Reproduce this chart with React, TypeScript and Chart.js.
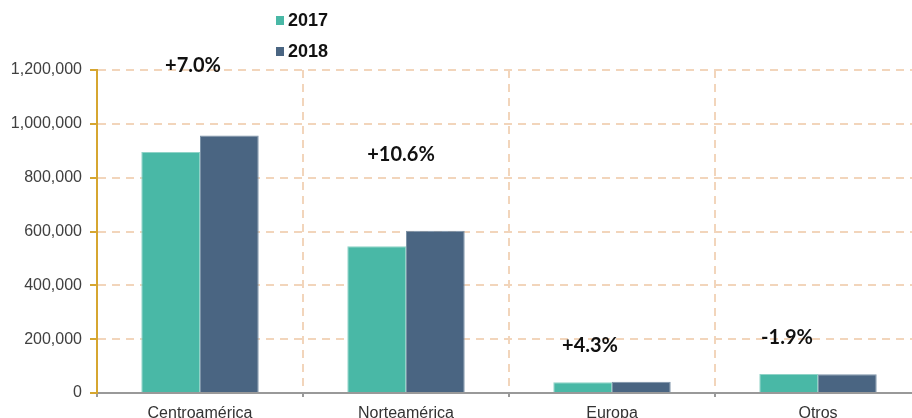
import React, { useEffect, useRef } from "react";
import { Chart, registerables } from "chart.js";

Chart.register(...registerables);

const categories = ["Centroamérica", "Norteamérica", "Europa", "Otros"];
const series2017 = [895000, 545000, 40000, 71000];
const series2018 = [957000, 603000, 41700, 69700];
const seriesNames = ["2017", "2018"];
const growthLabels = ["+7.0%", "+10.6%", "+4.3%", "-1.9%"];
const growthLevels = [1218000, 885000, 177000, 207000];
const growthShift = [-7, -5, -22, -31];
const yTicks = [0, 200000, 400000, 600000, 800000, 1000000, 1200000];

const GREEN = "#49b8a6";
const BLUE = "#4a6582";
const GRID = "#f2d5bb";
const GOLD = "#d6a630";

const overlayPlugin = {
  id: "overlay",
  afterDraw(chart: any) {
    const ctx = chart.ctx;
    const xs = chart.scales.x;
    const ys = chart.scales.y;
    ctx.save();
    ctx.fillStyle = "#111";
    ctx.font = "bold 20px Lato, 'Liberation Sans', sans-serif";
    ctx.textAlign = "center";
    ctx.textBaseline = "middle";
    growthLabels.forEach((t, i) => {
      ctx.fillText(t, xs.getPixelForValue(i) + growthShift[i], ys.getPixelForValue(growthLevels[i]));
    });
    const colors = [GREEN, BLUE];
    ctx.font = "bold 18px 'Liberation Sans', Arial, sans-serif";
    ctx.textAlign = "left";
    seriesNames.forEach((n, i) => {
      const cy = 20 + i * 31;
      ctx.fillStyle = colors[i];
      ctx.fillRect(276, cy - 4, 8, 9);
      ctx.fillStyle = "#111";
      ctx.fillText(n, 288, cy + 1);
    });
    ctx.restore();
  },
};

export default function App() {
  const ref = useRef<HTMLCanvasElement | null>(null);
  useEffect(() => {
    if (!ref.current) return;
    const chart = new Chart(ref.current, {
      type: "bar",
      data: {
        labels: categories,
        datasets: [
          { label: seriesNames[0], data: series2017, backgroundColor: GREEN, borderColor: "#8fd3c7", borderWidth: 1, barPercentage: 1, categoryPercentage: 0.57 },
          { label: seriesNames[1], data: series2018, backgroundColor: BLUE, borderColor: "#7d93a8", borderWidth: 1, barPercentage: 1, categoryPercentage: 0.57 },
        ],
      },
      options: {
        animation: false,
        responsive: true,
        maintainAspectRatio: false,
        layout: { padding: { top: 70, right: 1, left: 0, bottom: 0 } },
        plugins: { legend: { display: false }, tooltip: { enabled: false } },
        scales: {
          x: {
            offset: true,
            grid: {
              offset: true,
              color: GRID,
              lineWidth: 2,
              tickColor: "#999",
              tickLength: 4,
              tickBorderDash: [],
            },
            border: { color: "#999", width: 2, dash: [8, 6] },
            ticks: {
              color: "#333",
              font: { family: "'Liberation Sans', Arial, sans-serif", size: 16 },
              padding: 7,
            },
            afterFit(scale: any) {
              scale.height = 39;
            },
          },
          y: {
            min: 0,
            max: 1200000,
            afterBuildTicks(scale: any) {
              scale.ticks = yTicks.map((v) => ({ value: v }));
            },
            grid: {
              color: GRID,
              lineWidth: 2,
              tickColor: GOLD,
              tickLength: 7,
              tickBorderDash: [],
            },
            border: { color: GOLD, width: 2, dash: [8, 6] },
            ticks: {
              color: "#404040",
              font: { family: "'Liberation Sans', Arial, sans-serif", size: 16 },
              padding: 8,
              callback: (v: any) => Number(v).toLocaleString("en-US"),
            },
            afterFit(scale: any) {
              scale.width = 97;
            },
          },
        },
      },
      plugins: [overlayPlugin],
    } as any);
    return () => chart.destroy();
  }, []);

  return (
    <div style={{ position: "fixed", left: 0, top: 0, width: 912, height: 418, overflow: "hidden" }}>
      <div style={{ position: "absolute", left: 0, top: 0, width: 922, height: 432 }}>
        <canvas ref={ref} />
      </div>
    </div>
  );
}
